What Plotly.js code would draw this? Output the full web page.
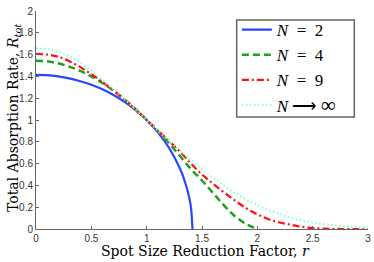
<!DOCTYPE html>
<html>
<head>
<meta charset="utf-8">
<script src="https://cdn.plot.ly/plotly-3.0.1.min.js"></script>
<style>html,body{margin:0;padding:0;background:#fff;}#chart{width:374px;height:262px;}</style>
</head>
<body>
<div id="chart"></div>
<script>
// Spot size reduction factor r (per series) and total absorption rate R_tot
const r2 = [0,0.1,0.2,0.3,0.4,0.5,0.6,0.7,0.8,0.9,1.0,1.1,1.2,1.3,1.35,1.38,1.40,1.414];
const R2 = [1.414,1.411,1.400,1.382,1.356,1.323,1.281,1.229,1.166,1.091,1.000,0.889,0.748,0.557,0.42,0.31,0.20,0];

const r4 = [0,0.1,0.2,0.3,0.4,0.5,0.6,0.7,0.8,0.9,1.0,1.1,1.2,1.3,1.4,1.5,1.6,1.7,1.8,1.9,2.0];
const R4 = [1.544,1.538,1.520,1.490,1.450,1.400,1.340,1.270,1.190,1.100,1.000,0.900,0.790,0.670,0.550,0.445,0.330,0.215,0.115,0.045,0];

const r9 = [0,0.1,0.2,0.3,0.4,0.5,0.6,0.7,0.8,0.9,1.0,1.1,1.2,1.3,1.4,1.5,1.6,1.7,1.8,1.9,2.0,2.1,2.2,2.3,2.4,2.5,2.6,2.7,2.8,2.9,3.0];
const R9 = [1.606,1.600,1.580,1.540,1.485,1.420,1.350,1.270,1.185,1.095,1.000,0.905,0.810,0.710,0.600,0.500,0.415,0.335,0.260,0.190,0.135,0.090,0.060,0.040,0.020,0.008,0.003,0.001,0,0,0];

const rInf = [0,0.1,0.2,0.3,0.4,0.5,0.6,0.7,0.8,0.9,1.0,1.1,1.2,1.3,1.4,1.5,1.6,1.7,1.8,1.9,2.0,2.1,2.2,2.3,2.4,2.5,2.6,2.7,2.8,2.9,3.0];
const RInf = [1.658,1.650,1.625,1.585,1.525,1.450,1.365,1.280,1.190,1.095,1.000,0.905,0.810,0.720,0.630,0.545,0.470,0.395,0.330,0.270,0.220,0.175,0.140,0.105,0.080,0.060,0.045,0.033,0.024,0.018,0.013];

const names = [
  '<i>N</i>\u00a0\u00a0=\u00a0\u00a02',
  '<i>N</i>\u00a0\u00a0=\u00a0\u00a04',
  '<i>N</i>\u00a0\u00a0=\u00a0\u00a09',
  '<i>N</i>\u00a0<span style="font-family:Liberation Serif">\u27f6</span>\u00a0<span style="font-size:21px">\u221e</span>'
];
const xTitle = 'Spot Size Reduction Factor, <i>r</i>';
const yTitle = 'Total Absorption Rate, <i>R</i><sub><i>tot</i></sub>';
const xTicks = [0,0.5,1,1.5,2,2.5,3];
const xTickText = ['0','0.5','1','1.5','2','2.5','3'];
const yTicks = [0,0.2,0.4,0.6,0.8,1,1.2,1.4,1.6,1.8,2];
const yTickText = ['0','0.2','0.4','0.6','0.8','1','1.2','1.4','1.6','1.8','2'];

const traces = [
  {x:r2, y:R2, name:names[0], mode:'lines', line:{color:'#2a45ff', width:2.2, dash:'solid', shape:'spline'}},
  {x:r4, y:R4, name:names[1], mode:'lines', line:{color:'#1ea01e', width:2.5, dash:'7px,4px', shape:'spline'}},
  {x:r9, y:R9, name:names[2], mode:'lines', line:{color:'#ff1010', width:2.2, dash:'7px,3px,2px,3px', shape:'spline'}},
  {x:rInf, y:RInf, name:names[3], mode:'lines', line:{color:'#86ffd8', width:2, dash:'1.5px,2.5px', shape:'spline'}}
];
traces.forEach(t => t.cliponaxis = false);

const serif = 'Liberation Serif, Times New Roman, serif';
const titleFont = {family:'DejaVu Serif, serif', size:14, color:'#000'};
const layout = {
  width:374, height:262,
  margin:{l:36, r:6, t:11, b:33},
  paper_bgcolor:'#fff', plot_bgcolor:'#fff',
  showlegend:true,
  legend:{x:0.605, y:0.995, xanchor:'left', yanchor:'top',
    bgcolor:'rgba(0,0,0,0)', borderwidth:0,
    font:{family:serif, size:17, color:'#000'},
    itemwidth:30, tracegroupgap:0},
  shapes:[{type:'rect', xref:'paper', yref:'paper', x0:0.6045, x1:0.9587, y0:0.5138, y1:0.9587,
    line:{color:'#666', width:1.5}, fillcolor:'#fff', layer:'above'}],
  annotations:[
    {text:yTitle, xref:'paper', yref:'paper', x:-0.068, y:0.511, xanchor:'center', yanchor:'middle',
      textangle:-90, showarrow:false, font:titleFont},
    {text:xTitle, xref:'paper', yref:'paper', x:0.51, y:-0.099, xanchor:'center', yanchor:'middle',
      showarrow:false, font:titleFont}
  ],
  xaxis:{range:[0,3], tickvals:xTicks, ticktext:xTickText,
    ticks:'inside', ticklen:3, tickcolor:'#666', showline:true, linecolor:'#666', linewidth:1,
    showgrid:false, zeroline:false, mirror:false,
    tickfont:{family:'Liberation Sans, Arial, sans-serif', size:10, color:'#333'}},
  yaxis:{range:[0,2], tickvals:yTicks, ticktext:yTickText,
    ticks:'inside', ticklen:3, tickcolor:'#666', showline:true, linecolor:'#666', linewidth:1,
    showgrid:false, zeroline:false, mirror:false,
    tickfont:{family:'Liberation Sans, Arial, sans-serif', size:10, color:'#333'}}
};
Plotly.newPlot('chart', traces, layout, {staticPlot:true, displayModeBar:false});
</script>
</body>
</html>
